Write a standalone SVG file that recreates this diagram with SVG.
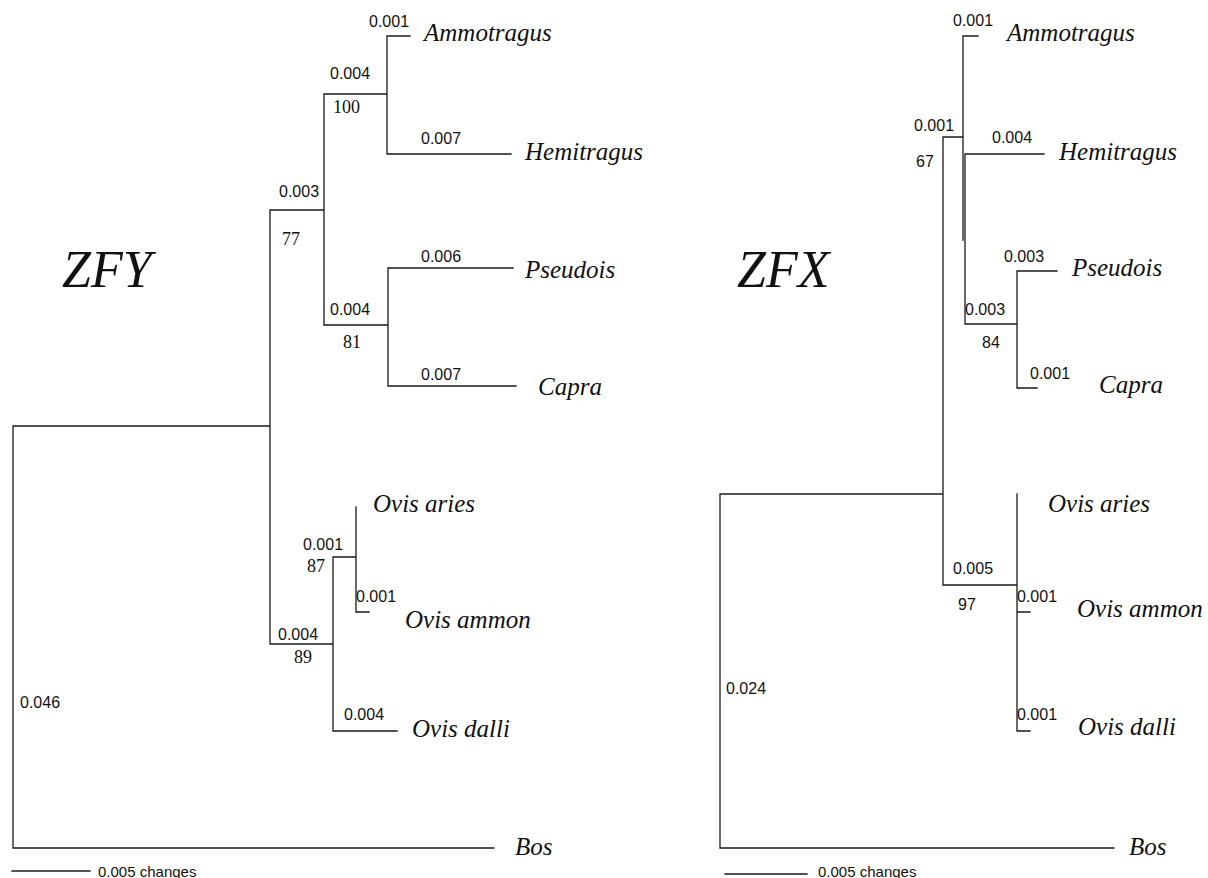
<svg xmlns="http://www.w3.org/2000/svg" width="1208" height="878" viewBox="0 0 1208 878">
<style>
.br{fill:none;stroke:#1a1a1a;stroke-width:1.3;stroke-linecap:square}
.n{font-family:"Liberation Sans",Arial,sans-serif;font-size:16px;fill:#111}
.s{font-family:"Liberation Sans",Arial,sans-serif;font-size:15px;fill:#111}
.b{font-family:"Liberation Serif","Times New Roman",serif;font-size:18px;fill:#111}
.t{font-family:"Liberation Serif","Times New Roman",serif;font-style:italic;font-size:25px;fill:#111}
.h{font-family:"Liberation Serif","Times New Roman",serif;font-style:italic;font-size:52px;fill:#111}
</style>
<rect width="1208" height="878" fill="#fff"/>
<g id="connectors">
<path class="br" d="M13,426 V848 H494 M13,426 H270 M270,210 V644 M270,210 H324 M324,94 V325 M324,94 H387 M387,36 V154 M387,36 H410 M387,154 H511 M324,325 H388 M388,268 V386 M388,268 H513 M388,386 H516 M270,644 H333 M333,557 V731 M333,557 H356 M356,507 V612 H369 M333,731 H397"/>
<path class="br" d="M12,871 H90"/>
<path class="br" d="M720,494 V848 H1114 M720,494 H943 M943,137 V585 M943,137 H963 M963,36 V240 M963,36 H978 M965,154 V324 M965,154 H1044 M965,324 H1017 M1017,271 V388 M1017,271 H1057 M1017,388 H1037 M943,585 H1017 M1017,494 V731 M1017,612 H1030 M1017,731 H1030"/>
<path class="br" d="M725,874 H807"/>
</g>
<g id="title-zfy"><text class="h" x="62" y="287">ZFY</text></g>
<g id="title-zfx"><text class="h" x="737" y="287">ZFX</text></g>
<g id="zfy-ammotragus"><text class="n" x="369" y="27">0.001</text><text class="t" x="424" y="41">Ammotragus</text></g>
<g id="zfy-hemitragus"><text class="n" x="421" y="144">0.007</text><text class="t" x="525" y="160">Hemitragus</text></g>
<g id="zfy-pseudois"><text class="n" x="421" y="262">0.006</text><text class="t" x="525" y="278">Pseudois</text></g>
<g id="zfy-capra"><text class="n" x="421" y="380">0.007</text><text class="t" x="538" y="395">Capra</text></g>
<g id="zfy-ovis-aries"><text class="t" x="373" y="512">Ovis aries</text></g>
<g id="zfy-ovis-ammon"><text class="n" x="356" y="602">0.001</text><text class="t" x="405" y="628">Ovis ammon</text></g>
<g id="zfy-ovis-dalli"><text class="n" x="344" y="720">0.004</text><text class="t" x="412" y="737">Ovis dalli</text></g>
<g id="zfy-bos"><text class="n" x="20" y="708">0.046</text><text class="t" x="515" y="855">Bos</text></g>
<g id="zfy-node-ah"><text class="n" x="330" y="79">0.004</text><text class="b" x="333" y="113">100</text></g>
<g id="zfy-node-caprini"><text class="n" x="279" y="197">0.003</text><text class="b" x="282" y="245">77</text></g>
<g id="zfy-node-pc"><text class="n" x="330" y="315">0.004</text><text class="b" x="343" y="348">81</text></g>
<g id="zfy-node-ovis"><text class="n" x="278" y="640">0.004</text><text class="b" x="294" y="663">89</text></g>
<g id="zfy-node-aa"><text class="n" x="303" y="550">0.001</text><text class="b" x="307" y="572">87</text></g>
<g id="zfy-scale"><text class="s" x="98" y="877">0.005 changes</text></g>
<g id="zfx-ammotragus"><text class="n" x="953" y="26">0.001</text><text class="t" x="1007" y="41">Ammotragus</text></g>
<g id="zfx-hemitragus"><text class="n" x="992" y="143">0.004</text><text class="t" x="1059" y="160">Hemitragus</text></g>
<g id="zfx-pseudois"><text class="n" x="1004" y="262">0.003</text><text class="t" x="1072" y="276">Pseudois</text></g>
<g id="zfx-capra"><text class="n" x="1030" y="379">0.001</text><text class="t" x="1099" y="393">Capra</text></g>
<g id="zfx-ovis-aries"><text class="t" x="1048" y="512">Ovis aries</text></g>
<g id="zfx-ovis-ammon"><text class="n" x="1017" y="602">0.001</text><text class="t" x="1077" y="617">Ovis ammon</text></g>
<g id="zfx-ovis-dalli"><text class="n" x="1017" y="720">0.001</text><text class="t" x="1078" y="735">Ovis dalli</text></g>
<g id="zfx-bos"><text class="n" x="726" y="694">0.024</text><text class="t" x="1129" y="855">Bos</text></g>
<g id="zfx-node-caprini"><text class="n" x="914" y="131">0.001</text><text class="n" x="916" y="167">67</text></g>
<g id="zfx-node-pc"><text class="n" x="965" y="315">0.003</text><text class="n" x="982" y="348">84</text></g>
<g id="zfx-node-ovis"><text class="n" x="953" y="574">0.005</text><text class="n" x="958" y="610">97</text></g>
<g id="zfx-scale"><text class="s" x="818" y="877">0.005 changes</text></g>
</svg>
